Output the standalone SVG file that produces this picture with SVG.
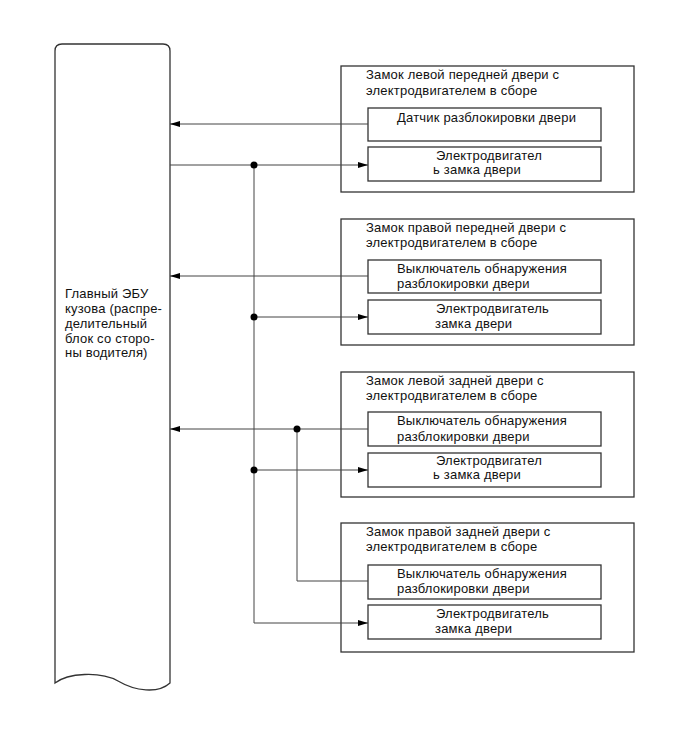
<svg xmlns="http://www.w3.org/2000/svg" width="689" height="756" viewBox="0 0 689 756">
<defs>
<style>
text{font-family:"Liberation Sans",Arial,sans-serif;font-size:13px;letter-spacing:0.2px;fill:#111}
.box{fill:#fff;stroke:#333;stroke-width:1.3}
.ln{fill:none;stroke:#444;stroke-width:1}
.dot{fill:#000}
</style>
<marker id="ah" viewBox="0 0 10 6" refX="10" refY="3" markerWidth="10" markerHeight="6" markerUnits="userSpaceOnUse" orient="auto">
<path d="M0,0 L10,3 L0,6 Z" fill="#000"/>
</marker>
</defs>
<rect width="689" height="756" fill="#fff"/>

<g id="ecu">
<path class="box" stroke-width="1.6" d="M55,683 L55,51 Q55,44 62,44 L163,44 Q170,44 170,51 L170,683 C158,694 135,691 118,681 C100,671 68,673 55,683 Z"/>
<text x="65" y="298">Главный ЭБУ</text>
<text x="65" y="313">кузова (распре-</text>
<text x="65" y="328">делительный</text>
<text x="65" y="343">блок со сторо-</text>
<text x="65" y="357">ны водителя)</text>
</g>

<g id="door-fl">
<rect class="box" x="341" y="66" width="293" height="126"/>
<text x="366" y="79">Замок левой передней двери с</text>
<text x="366" y="95">электродвигателем в сборе</text>
<rect class="box" x="368" y="108" width="233" height="33"/>
<text x="397" y="122">Датчик разблокировки двери</text>
<rect class="box" x="368" y="147" width="233" height="34"/>
<text x="436" y="160">Электродвигател</text>
<text x="433" y="174">ь замка двери</text>
</g>

<g id="door-fr">
<rect class="box" x="341" y="219" width="293" height="126"/>
<text x="366" y="232">Замок правой передней двери с</text>
<text x="366" y="247">электродвигателем в сборе</text>
<rect class="box" x="368" y="260" width="233" height="33"/>
<text x="397" y="273">Выключатель обнаружения</text>
<text x="397" y="288">разблокировки двери</text>
<rect class="box" x="368" y="300" width="233" height="34"/>
<text x="436" y="313">Электродвигатель</text>
<text x="435" y="328">замка двери</text>
</g>

<g id="door-rl">
<rect class="box" x="341" y="372" width="293" height="125"/>
<text x="366" y="385">Замок левой задней двери с</text>
<text x="366" y="400">электродвигателем в сборе</text>
<rect class="box" x="368" y="412" width="233" height="34"/>
<text x="397" y="425">Выключатель обнаружения</text>
<text x="397" y="441">разблокировки двери</text>
<rect class="box" x="368" y="453" width="233" height="34"/>
<text x="436" y="465">Электродвигател</text>
<text x="433" y="479">ь замка двери</text>
</g>

<g id="door-rr">
<rect class="box" x="341" y="523" width="293" height="129"/>
<text x="366" y="536">Замок правой задней двери с</text>
<text x="366" y="551">электродвигателем в сборе</text>
<rect class="box" x="368" y="565" width="233" height="34"/>
<text x="397" y="578">Выключатель обнаружения</text>
<text x="397" y="593">разблокировки двери</text>
<rect class="box" x="368" y="605" width="233" height="34"/>
<text x="436" y="618">Электродвигатель</text>
<text x="435" y="633">замка двери</text>
</g>

<g id="connectors">
<path class="ln" d="M368,124 L170,124" marker-end="url(#ah)"/>
<path class="ln" d="M368,276 L170,276" marker-end="url(#ah)"/>
<path class="ln" d="M368,429 L170,429" marker-end="url(#ah)"/>
<path class="ln" d="M170,165 L368,165" marker-end="url(#ah)"/>
<path class="ln" d="M254,165 L254,623"/>
<path class="ln" d="M254,317 L368,317" marker-end="url(#ah)"/>
<path class="ln" d="M254,470 L368,470" marker-end="url(#ah)"/>
<path class="ln" d="M254,623 L368,623" marker-end="url(#ah)"/>
<path class="ln" d="M297,429 L297,581 L368,581"/>
<circle class="dot" cx="254" cy="165" r="3.5"/>
<circle class="dot" cx="254" cy="317" r="3.5"/>
<circle class="dot" cx="254" cy="470" r="3.5"/>
<circle class="dot" cx="297" cy="429" r="3.5"/>
</g>
</svg>
